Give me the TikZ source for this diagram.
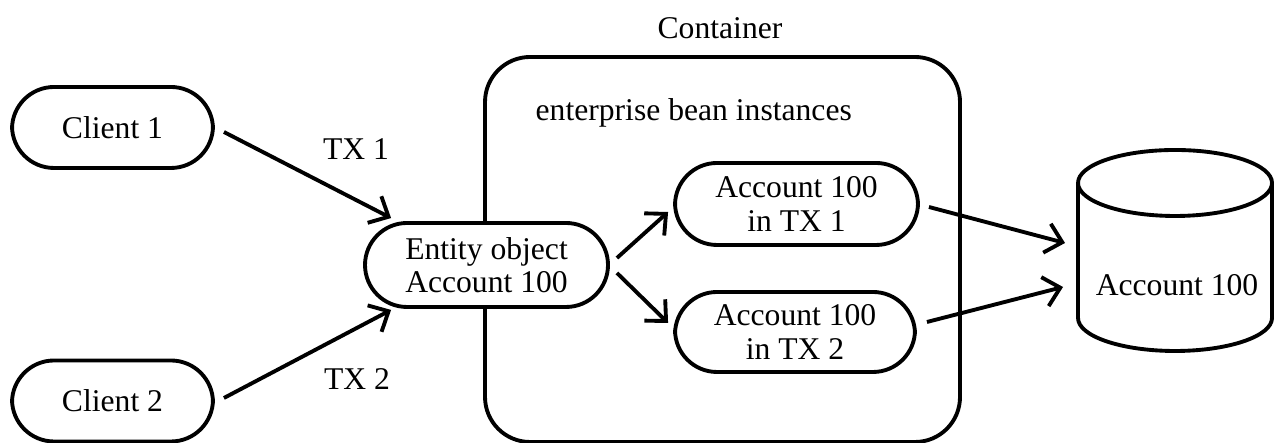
\documentclass[tikz,border=0pt]{standalone}
\usepackage{fontspec}
\setmainfont{Liberation Serif}
\usetikzlibrary{arrows.meta}

\begin{document}
\begin{tikzpicture}[font=\fontsize{9}{9.5}\selectfont, line width=1.1pt,
    pill/.style={draw, fill=white, rounded corners=0.42cm, align=center, inner sep=0pt},
    arr/.style={-{Straight Barb[length=4.5pt,width=8.5pt]}}]
            \useasboundingbox (0,0) rectangle (12.74,4.43);
            % container
            \draw[rounded corners=0.45cm] (4.85,0.01) rectangle (9.60,3.86);
            \node (contlbl) at (7.20,4.15) {Container};
            \node[anchor=base west] (beans) at (5.22,3.22) {enterprise bean instances};
            % clients and entity
            \node[pill, minimum width=2.01cm, minimum height=0.81cm] (c1) at (1.125,3.155) {Client 1};
            \node[pill, minimum width=2.01cm, minimum height=0.81cm] (c2) at (1.125,0.42) {Client 2};
            \node[pill, minimum width=2.43cm, minimum height=0.84cm] (ent) at (4.865,1.78) {Entity object\\Account 100};
            \node[pill, minimum width=2.43cm, minimum height=0.82cm] (tx1) at (7.965,2.39) {Account 100\\in TX 1};
            \node[pill, minimum width=2.40cm, minimum height=0.80cm] (tx2) at (7.95,1.11) {Account 100\\in TX 2};
            % database
            \draw (11.75,2.60) ellipse [x radius=0.97, y radius=0.33];
            \draw (10.78,2.60) -- (10.78,1.25) arc[start angle=180, end angle=360, x radius=0.97, y radius=0.33] -- (12.72,2.60);
            \node (db) at (11.77,1.58) {Account 100};
            \coordinate (db1) at (10.65,2.00);
            \coordinate (db2) at (10.63,1.56);
            % connectors
            \draw[arr] ([shift={(0.09,-0.045)}]c1.east) -- ([shift={(0.28,0.03)}]ent.north west);
            \draw[arr] ([shift={(0.09,0.03)}]c2.east) -- ([shift={(0.28,-0.01)}]ent.south west);
            \node (t1) at (3.56,2.94) {TX 1};
            \node (t2) at (3.57,0.64) {TX 2};
            \draw[arr] ([shift={(0.07,0.07)}]ent.east) -- ([shift={(-0.05,-0.08)}]tx1.west);
            \draw[arr] ([shift={(0.07,-0.08)}]ent.east) -- ([shift={(-0.05,0.09)}]tx2.west);
            \draw[arr] ([shift={(0.09,-0.03)}]tx1.east) -- (db1);
            \draw[arr] ([shift={(0.10,0.10)}]tx2.east) -- (db2);
        \end{tikzpicture}
\end{document}
